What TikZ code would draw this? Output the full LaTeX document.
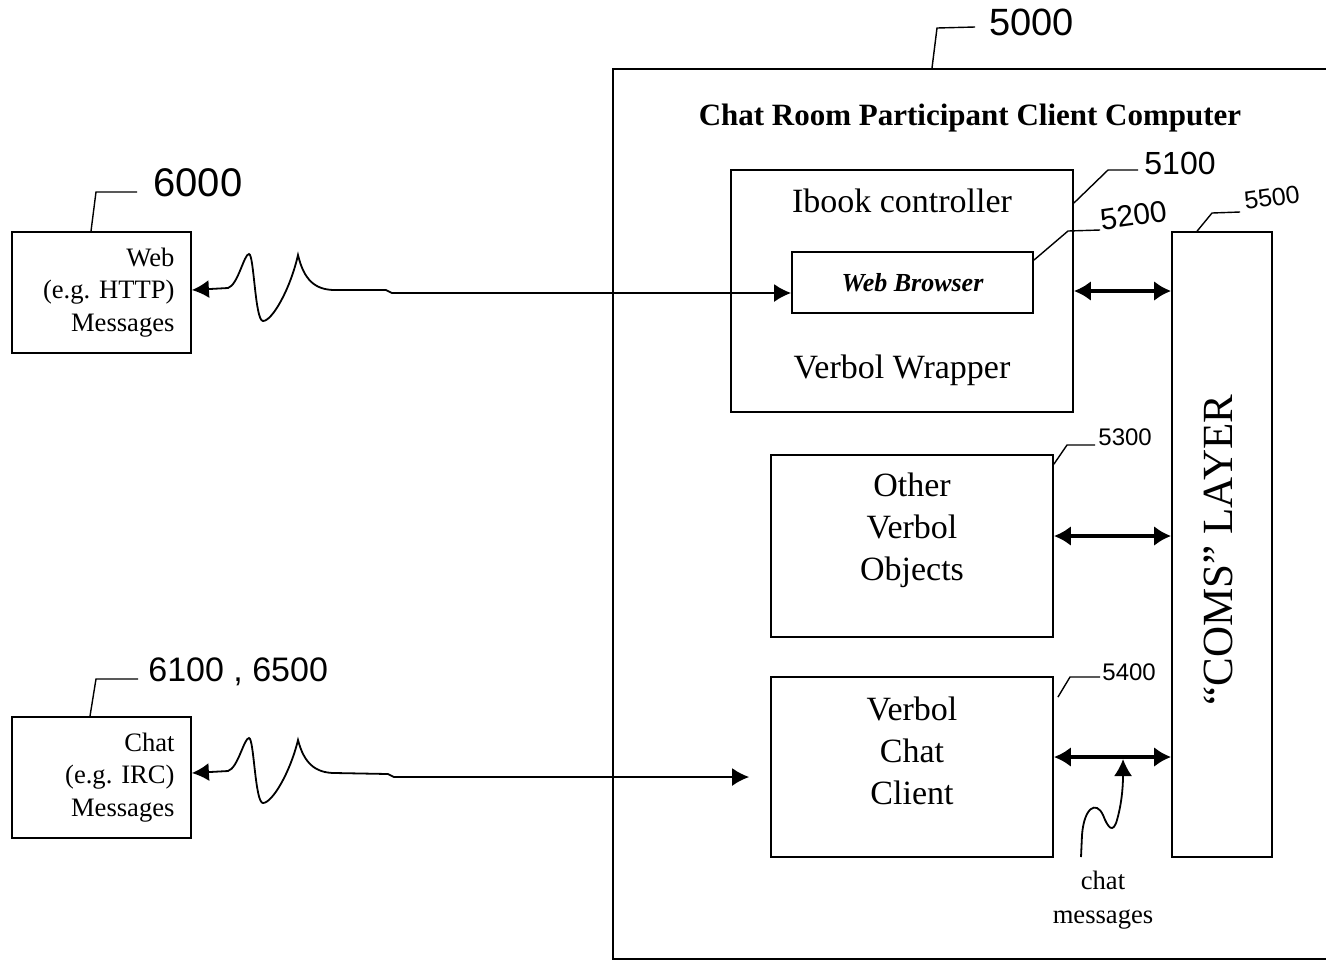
\documentclass[tikz,border=0pt]{standalone}
\usepackage{fontspec}
\setmainfont{Liberation Serif}
\setsansfont{Liberation Sans}
\usetikzlibrary{arrows.meta}
\tikzset{
  block/.style={
    rectangle,
    line width=0.9pt,
    draw=black,
    align=center,
    inner sep=0pt
    },
  frame/.style={
    rectangle,
    line width=1.1pt,
    draw=black,
    minimum width=380pt,
    minimum height=445pt
    },
  msgbox/.style={
    block,
    minimum width=89.5pt,
    minimum height=60.5pt,
    text width=73pt,
    align=right,
    inner xsep=8pt,
    font=\fontsize{13.3}{16.2}\selectfont
    },
  bodytext/.style={
    align=center,
    inner sep=0pt,
    font=\fontsize{17}{21}\selectfont
    },
  tag/.style={
    inner sep=0pt,
    anchor=west,
    font=\sffamily\fontsize{12}{12}\selectfont
    },
  lead/.style={line width=0.7pt},
  pil/.style={
    -{Latex[length=8.5pt,width=9pt]},
    line width=0.9pt
    },
  pilboth/.style={
    {Latex[length=8.5pt,width=9pt]}-{Latex[length=8.5pt,width=9pt]},
    line width=0.9pt
    },
  dbl/.style={
    {Latex[length=8.5pt,width=10pt]}-{Latex[length=8.5pt,width=10pt]},
    line width=2pt
    }
}

\begin{document}
\begin{tikzpicture}[x=0.5pt, y=-0.5pt]
\useasboundingbox (0,0) rectangle (1326,960);

% client computer
\node (pc) [frame, anchor=north west] at (612,68) {};
\node (title) [inner sep=0pt, font=\bfseries\fontsize{15.5}{18}\selectfont] at (970,118) {Chat Room Participant Client Computer};

\node (ibook) [block, minimum width=171pt, minimum height=121pt] at (902,291) {};
\node (ibooktop) [bodytext] at (902,201) {Ibook controller};
\node (ibookbot) [bodytext] at (902,370) {Verbol Wrapper};
\node (browser) [block, minimum width=120.5pt, minimum height=30.5pt, font=\bfseries\itshape\fontsize{13}{15}\selectfont] at (912.5,282.5) {Web Browser};

\node (objs) [block, minimum width=141pt, minimum height=91pt] at (912,546) {};
\node (objstext) [bodytext] at ([yshift=8pt]objs.center) {Other\\Verbol\\Objects};
\node (client) [block, minimum width=141pt, minimum height=90pt] at (912,767) {};
\node (clienttext) [bodytext] at ([yshift=8pt]client.center) {Verbol\\Chat\\Client};

\node (coms) [block, minimum width=50pt, minimum height=312.5pt] at (1222,544.5) {};
\node (comstext) [bodytext, rotate=90, font=\fontsize{21.5}{24}\selectfont] at ([yshift=-2.75pt,xshift=-2pt]coms.center) {“COMS” LAYER};

% outside message sources
\node (web) [msgbox] at (101.5,292.5) {Web\\(e.g.\ HTTP)\\Messages};
\node (chat) [msgbox] at (101.5,777.5) {Chat\\(e.g.\ IRC)\\Messages};
\node (chatmsg) [bodytext, font=\fontsize{13.3}{17}\selectfont] at (1103,900) {chat\\messages};

% arrows to coms layer
\draw[dbl] (ibook.east) -- (ibook.east -| coms.west);
\draw[dbl] ([yshift=5pt]objs.east) -- ([yshift=5pt]objs.east -| coms.west);
\draw[dbl] ([yshift=5pt]client.east) -- coordinate[pos=0.59] (tap) ([yshift=5pt]client.east -| coms.west);

% wavy links
\draw[pilboth] ([yshift=1.25pt]web.east) -- (228,288) .. controls (238,285) and (244,254) .. (249,254)
  .. controls (254,254) and (255,321) .. (263,321) .. controls (272,321) and (290,290) .. (298,255)
  .. controls (304,280) and (315,290) .. (335,290) -- (386,290) -- (392,293) -- ([yshift=-5.25pt]browser.west);
\coordinate (chatend) at ([xshift=-10.5pt,yshift=-5pt]client.west);
\draw[pilboth] ([yshift=2.25pt]chat.east) -- (228,771) .. controls (238,768) and (244,738) .. (249,738)
  .. controls (254,738) and (255,803) .. (263,803) .. controls (272,803) and (290,773) .. (298,740)
  .. controls (304,763) and (315,773) .. (335,773) -- (388,774) -- (394,777) -- (chatend);
\coordinate (wig) at (1081,857);
\draw[pil] (wig) -- (1082,835) .. controls (1084,808) and (1096,800) .. (1103,815)
  .. controls (1108,828) and (1113,834) .. (1117,820) .. controls (1121,806) and (1123,790) .. ([yshift=-1pt]tap);

% reference numbers
\node (t6000) [tag, font=\sffamily\fontsize{20}{20}\selectfont, inner xsep=8pt] at (137,183) {6000};
\draw[lead] ([xshift=-5.25pt]web.north) -- (96,192) -- (t6000.west |- 96,192);
\node (t6100) [tag, font=\sffamily\fontsize{17}{17}\selectfont, inner xsep=5pt] at (138,672) {6100 , 6500};
\draw[lead] ([xshift=-5.75pt]chat.north) -- (96,679) -- (t6100.west |- 96,679);
\node (t5000) [tag, font=\sffamily\fontsize{19}{19}\selectfont, inner xsep=7pt] at (975,22) {5000};
\draw[lead] ([xshift=160pt]pc.north west) -- (937,28) -- (t5000.west |- 937,27);
\node (t5100) [tag, font=\sffamily\fontsize{16}{16}\selectfont, inner xsep=3pt] at (1138,163) {5100};
\draw[lead] ([yshift=44pt]ibook.east) -- (1108,170) -- (t5100.west |- 1108,170);
\node (t5200) [tag, font=\sffamily\fontsize{15}{15}\selectfont, rotate=8] at (1100,220) {5200};
\draw[lead] ([yshift=-4.5pt]browser.north east) -- (1068,231) -- (t5200.west |- 1068,230);
\node (t5500) [tag, font=\sffamily\fontsize{12.5}{12.5}\selectfont, rotate=8, inner xsep=2pt] at (1240,202) {5500};
\draw[lead] ([xshift=13pt]coms.north west) -- (1212,213) -- (t5500.west |- 1212,212);
\node (t5300) [tag, inner xsep=1.5pt] at (1095,437) {5300};
\draw[lead] ([yshift=-5pt]objs.north east) -- (1067,445) -- (t5300.west |- 1067,445);
\node (t5400) [tag, inner xsep=1pt] at (1100,672) {5400};
\draw[lead] ([xshift=2pt,yshift=-10.5pt]client.north east) -- (1070,677) -- (t5400.west |- 1070,677);
\end{tikzpicture}
\end{document}
